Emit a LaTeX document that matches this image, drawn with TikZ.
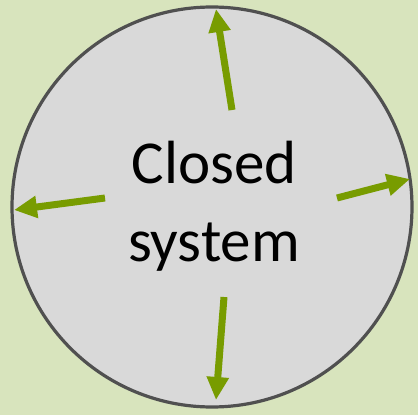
\documentclass[tikz,border=0pt]{standalone}
\usepackage{fontspec}
\setmainfont{Carlito}
\usetikzlibrary{arrows.meta}
\definecolor{cBack}{HTML}{D8E4BD}
\definecolor{cDisc}{HTML}{D9D9D9}
\definecolor{cRim}{HTML}{505050}
\definecolor{cFlow}{HTML}{789C00}

\begin{document}
\begin{tikzpicture}[
  x=1pt, y=-1pt,
  >={Triangle[length=23pt, width=21pt]},
  disc/.style={circle, draw=cRim, fill=cDisc, line width=3.2pt,
               minimum size=400pt, inner sep=0pt},
  flow/.style={->, draw=cFlow, fill=cFlow, line width=7pt},
  lab/.style={align=center, inner sep=0pt, text=black,
              font=\fontsize{61}{78}\selectfont},
]

% page
\fill[cBack] (0,0) rectangle (418,415);
\useasboundingbox (0,0) rectangle (418,415);

% the system
\node[disc] (sys) at (212,207) {};
\node[lab] (name) at (214,206) {Closed\\system};

% tails of the arrows
\coordinate (tUp) at (232,110);
\coordinate (tLeft) at (105,198);
\coordinate (tRight) at (337,198);
\coordinate (tDown) at (224,297);

% heads on the rim
\coordinate (hUp) at (216,9);
\coordinate (hLeft) at (14,210);
\coordinate (hRight) at (410,179);
\coordinate (hDown) at (216,400);

\draw[flow] (tUp) -- (hUp);
\draw[flow] (tLeft) -- (hLeft);
\draw[flow] (tRight) -- (hRight);
\draw[flow] (tDown) -- (hDown);

\end{tikzpicture}
\end{document}
